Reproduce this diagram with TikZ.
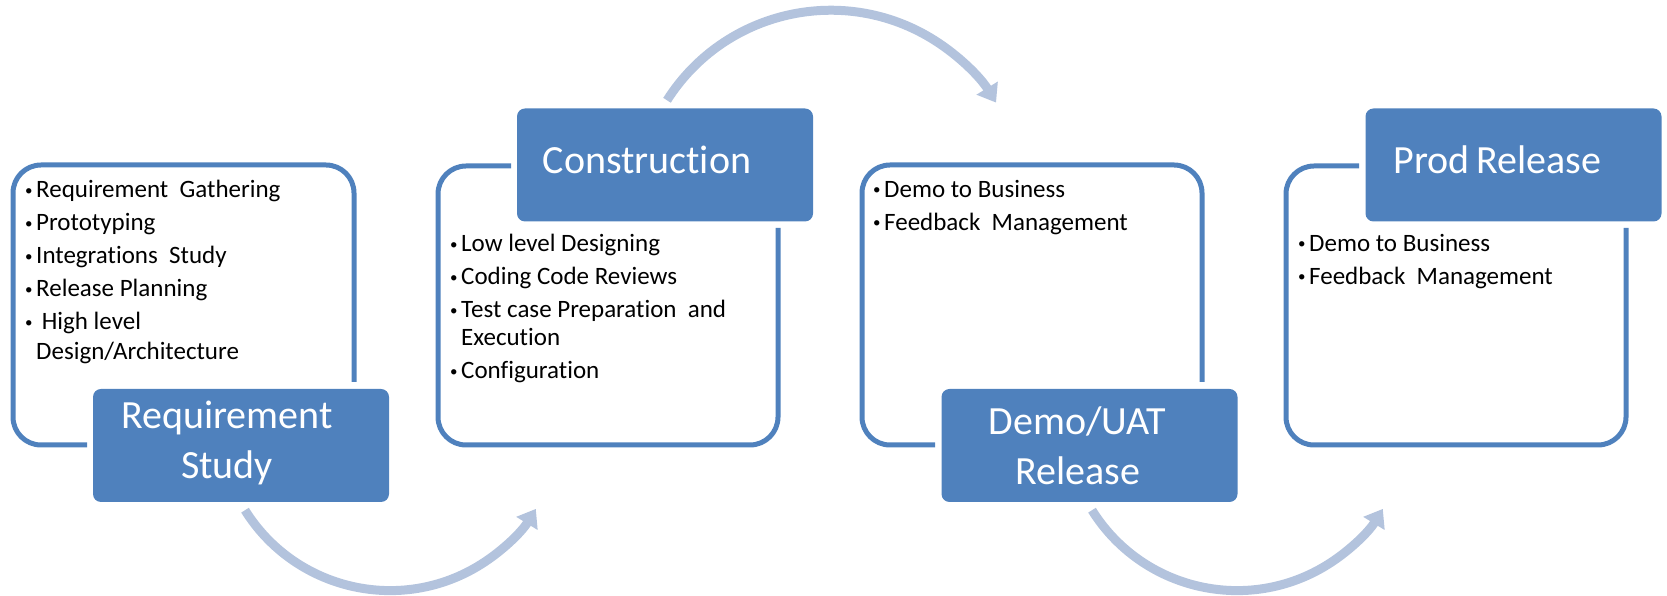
\documentclass[tikz,border=0pt]{standalone}
\usepackage{fontspec}
\setmainfont{Carlito}[Ligatures=NoCommon]
\usetikzlibrary{arrows.meta}
\definecolor{stageblue}{RGB}{79,129,189}
\definecolor{arcblue}{RGB}{179,195,221}
\newcommand{\bul}{\makebox[11pt][l]{\raisebox{2.5pt}{\fontsize{15}{15}\selectfont\textbullet}}}
\begin{document}
\begin{tikzpicture}[x=1pt,y=1pt,
	frame/.style={draw=stageblue, line width=5pt, rounded corners=28pt},
	stage/.style={rectangle, fill=stageblue, rounded corners=8pt, minimum width=296pt, minimum height=113pt, inner sep=0pt},
	stagetext/.style={text=white, align=center, font=\fontsize{40}{50}\selectfont},
	items/.style={anchor=north west, align=left, inner sep=0pt, font=\fontsize{25}{33}\selectfont},
	flow/.style={draw=arcblue, line width=9pt, -{Triangle[width=24pt,length=17pt]}}]
	\useasboundingbox (0,0) rectangle (1667,596);

	% stages
	\node (rs)   at ( 241,  150.5)	[stage, label={[stagetext, xshift=-14pt, yshift=3pt]center:Requirement\\Study}]	{};
	\node (con)  at ( 665,  431)	[stage, label={[stagetext, xshift=-18pt, yshift=5pt]center:Construction}]	{};
	\node (uat)  at (1089.5,150.5)	[stage, label={[stagetext, xshift=-12pt]center:Demo/UAT\\Release}]	{};
	\node (prod) at (1513.5,431)	[stage, label={[stagetext, xshift=-16pt, yshift=5pt]center:Prod\,Release}]	{};

	% frames
	\draw[frame] (87,151) -| (13,431) -| (354,214);
	\draw[frame] (511,430) -| (438,151) -| (778,368);
	\draw[frame] (935,151) -| (862,431) -| (1202,214);
	\draw[frame] (1359,430) -| (1286,151) -| (1626,368);

	% task lists
	\node (t1) at (25,416)	[items]	{\bul Requirement\ \ Gathering\\ \bul Prototyping\\ \bul Integrations\ \ Study\\ \bul Release\ Planning\\ \bul\ High level\\[-3pt] \hspace*{11pt}Design/Architecture};
	\node (t2) at (450,362)	[items]	{\bul Low level\ Designing\\ \bul Coding\ Code Reviews\\ \bul Test case Preparation\ \ and\\[-5pt] \hspace*{11pt}Execution\\ \bul Configuration};
	\node (t3) at (873,416)	[items]	{\bul Demo to Business\\ \bul Feedback\ \ Management};
	\node (t4) at (1298,362)	[items]	{\bul Demo to Business\\ \bul Feedback\ \ Management};

	% arcs between stages
	\coordinate (s1) at ([xshift=4pt, yshift=-8pt]rs.south);
	\coordinate (s2) at ([xshift=2pt, yshift=8pt]con.north);
	\coordinate (s3) at ([xshift=2.5pt, yshift=-8pt]uat.south);
	\draw[flow] (s1) arc[start angle=212, end angle=328.5, radius=171];
	\draw[flow] (s2) arc[start angle=147.6, end angle=31.6, radius=194];
	\draw[flow] (s3) arc[start angle=212, end angle=328.5, radius=171];
\end{tikzpicture}
\end{document}
